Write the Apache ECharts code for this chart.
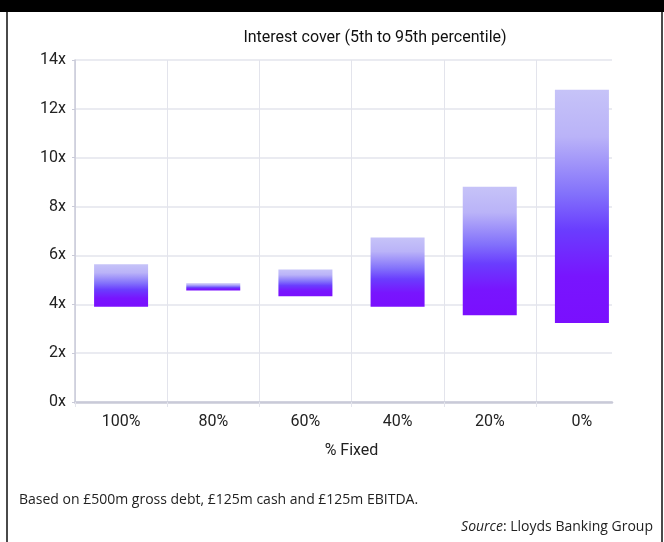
<!DOCTYPE html>
<html>
<head>
<meta charset="utf-8">
<style>
  html, body { margin: 0; padding: 0; background: #ffffff; }
  #chart { width: 664px; height: 542px; }
</style>
<script src="https://cdn.jsdelivr.net/npm/echarts@6/dist/echarts.min.js"></script>
</head>
<body>
<div id="chart"></div>
<script>
// Interest cover range (5th to 95th percentile) by share of fixed-rate debt
const categories = ['100%', '80%', '60%', '40%', '20%', '0%'];
const coverLow  = [3.90, 4.56, 4.33, 3.90, 3.55, 3.23];   // 5th percentile
const coverHigh = [5.64, 4.86, 5.42, 6.73, 8.81, 12.78];  // 95th percentile
const yMin = 0, yMax = 14, yStep = 2;

const labelFont = 'Roboto, "Liberation Sans", sans-serif';
const noteFont = '"Open Sans", "Noto Sans", sans-serif';
const textColor = '#222222';
const gridColor = '#e3e4ec';
const axisColor = '#c9cad8';

const barGradient = new echarts.graphic.LinearGradient(0, 0, 0, 1, [
  { offset: 0.00, color: '#c6c3f8' },
  { offset: 0.20, color: '#bab3f8' },
  { offset: 0.45, color: '#8270fb' },
  { offset: 0.60, color: '#6a3dfe' },
  { offset: 0.80, color: '#7815fe' },
  { offset: 1.00, color: '#7a0ffe' }
]);

const chart = echarts.init(document.getElementById('chart'), null, { renderer: 'canvas' });

chart.setOption({
  animation: false,
  backgroundColor: '#ffffff',
  grid: [
    // bars and category labels
    { left: 75, right: 36, top: 60, bottom: 140 },
    // value axis, horizontal gridlines and baseline
    { left: 75, right: 52, top: 60, bottom: 140 },
    // separators between categories (all but the last boundary)
    { left: 75, right: 128, top: 60, bottom: 140 }
  ],
  xAxis: [
    {
      type: 'category',
      gridIndex: 0,
      data: categories,
      boundaryGap: true,
      axisLine: { show: false },
      axisTick: { show: false },
      splitLine: { show: false },
      axisLabel: {
        margin: 12,
        color: textColor,
        fontFamily: labelFont,
        fontSize: 16
      },
      name: '% Fixed',
      nameLocation: 'middle',
      nameGap: 41,
      nameTextStyle: { color: textColor, fontFamily: labelFont, fontSize: 16 }
    },
    {
      type: 'value',
      gridIndex: 1,
      min: 0, max: 1,
      axisLine: { show: true, onZero: false, lineStyle: { color: axisColor, width: 2.5 } },
      axisTick: { show: false },
      axisLabel: { show: false },
      splitLine: { show: false }
    },
    {
      type: 'category',
      gridIndex: 2,
      data: categories.slice(0, categories.length - 1),
      boundaryGap: true,
      axisLine: { show: false },
      axisLabel: { show: false },
      axisTick: { show: true, length: 5, lineStyle: { color: gridColor, width: 1 } },
      splitLine: { show: true, lineStyle: { color: gridColor, width: 1 } }
    }
  ],
  yAxis: [
    {
      type: 'value',
      gridIndex: 0,
      min: yMin, max: yMax, interval: yStep,
      show: false
    },
    {
      type: 'value',
      gridIndex: 1,
      min: yMin, max: yMax, interval: yStep,
      axisLine: { show: true, lineStyle: { color: axisColor, width: 1.5 } },
      axisTick: { show: true, length: 3, lineStyle: { color: axisColor } },
      splitLine: { show: true, lineStyle: { color: gridColor, width: 1.5 } },
      axisLabel: {
        margin: 9,
        color: textColor,
        fontFamily: labelFont,
        fontSize: 16,
        formatter: '{value}x'
      }
    },
    {
      type: 'value',
      gridIndex: 2,
      min: yMin, max: yMax, interval: yStep,
      show: false
    }
  ],
  series: [
    {
      name: 'base',
      type: 'bar',
      xAxisIndex: 0, yAxisIndex: 0,
      stack: 'range',
      barWidth: 54,
      silent: true,
      itemStyle: { color: 'transparent' },
      data: coverLow
    },
    {
      name: 'Interest cover',
      type: 'bar',
      xAxisIndex: 0, yAxisIndex: 0,
      stack: 'range',
      barWidth: 54,
      itemStyle: { color: barGradient },
      data: coverHigh.map((h, i) => +(h - coverLow[i]).toFixed(2))
    }
  ],
  graphic: [
    { type: 'rect', left: 0, top: 0, shape: { width: 664, height: 12 }, style: { fill: '#000000' }, silent: true },
    { type: 'rect', left: 6, top: 12, shape: { width: 2, height: 530 }, style: { fill: '#4a4a4a' }, silent: true },
    { type: 'rect', left: 661, top: 12, shape: { width: 2, height: 530 }, style: { fill: '#4a4a4a' }, silent: true },
    {
      type: 'text', x: 375, y: 38,
      style: {
        text: 'Interest cover (5th to 95th percentile)',
        fill: '#111111',
        font: '16px ' + labelFont,
        textAlign: 'center',
        textVerticalAlign: 'middle'
      }
    },
    {
      type: 'text', x: 19, y: 500,
      style: {
        text: 'Based on £500m gross debt, £125m cash and £125m EBITDA.',
        fill: textColor,
        font: '14px ' + noteFont,
        textVerticalAlign: 'middle'
      }
    },
    {
      type: 'text', x: 653, y: 527,
      style: {
        text: '{i|Source}: Lloyds Banking Group',
        fill: textColor,
        font: '14px ' + noteFont,
        textAlign: 'right',
        textVerticalAlign: 'middle',
        rich: {
          i: { fontStyle: 'italic', fontFamily: noteFont, fontSize: 14, fill: textColor }
        }
      }
    }
  ]
});
</script>
</body>
</html>
